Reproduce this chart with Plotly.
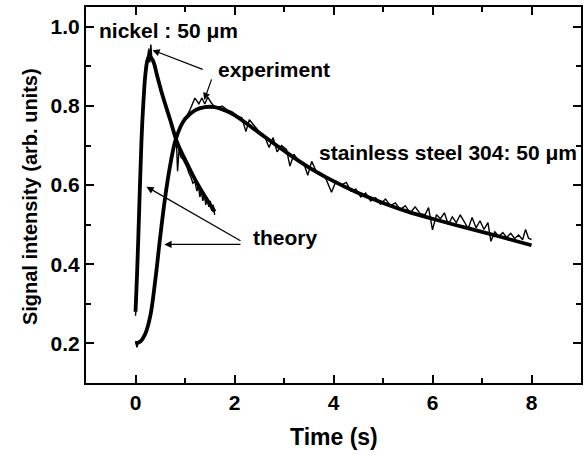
import plotly.graph_objects as go

# Nickel: theory curve
ni_th_t = [0, 0.03, 0.06, 0.09, 0.12, 0.16, 0.20, 0.24, 0.28, 0.35, 0.45, 0.55, 0.70, 0.85, 1.00, 1.20, 1.40, 1.60]
ni_th_y = [0.28, 0.37, 0.48, 0.60, 0.71, 0.81, 0.88, 0.915, 0.925, 0.915, 0.87, 0.825, 0.765, 0.705, 0.665, 0.615, 0.572, 0.533]

# Nickel: experiment
ni_ex_t = [0, 0.02, 0.04, 0.08, 0.12, 0.16, 0.20, 0.24, 0.27, 0.29, 0.31, 0.33, 0.36, 0.40, 0.44, 0.48,
           0.52, 0.56, 0.60, 0.64, 0.68, 0.72, 0.76, 0.80, 0.83, 0.85, 0.88, 0.92, 0.96, 1.00, 1.04, 1.08,
           1.12, 1.16, 1.20, 1.24, 1.27, 1.30, 1.33, 1.36, 1.39, 1.42, 1.45, 1.48, 1.51, 1.54, 1.57, 1.60]
ni_ex_y = [0.27, 0.30, 0.40, 0.55, 0.70, 0.81, 0.89, 0.93, 0.945, 0.91, 0.955, 0.92, 0.915, 0.90, 0.88, 0.86,
           0.845, 0.825, 0.80, 0.79, 0.77, 0.755, 0.74, 0.725, 0.70, 0.635, 0.69, 0.67, 0.665, 0.655, 0.645, 0.63,
           0.62, 0.605, 0.61, 0.585, 0.60, 0.57, 0.585, 0.56, 0.575, 0.55, 0.57, 0.545, 0.56, 0.535, 0.55, 0.525]

# Stainless steel 304: theory curve
ss_th_t = [0, 0.1, 0.2, 0.3, 0.4, 0.5, 0.6, 0.7, 0.8, 0.9, 1.0, 1.2, 1.4, 1.6, 1.8, 2.0, 2.5,
           3.0, 3.5, 4.0, 4.5, 5.0, 5.5, 6.0, 6.5, 7.0, 7.5, 8.0]
ss_th_y = [0.20, 0.205, 0.225, 0.27, 0.36, 0.47, 0.57, 0.65, 0.71, 0.745, 0.767, 0.789, 0.797, 0.797, 0.789, 0.777, 0.732,
           0.687, 0.645, 0.610, 0.580, 0.555, 0.533, 0.515, 0.498, 0.482, 0.465, 0.448]

# Stainless steel 304: experiment
ss_ex_t = [0.00, 0.03, 0.06, 0.10, 0.20, 0.30, 0.40, 0.50, 0.60, 0.70, 0.80, 0.90, 1.00, 1.10, 1.20, 1.28,
           1.34, 1.40, 1.46, 1.52, 1.58, 1.65, 1.75, 1.85, 1.95, 2.05, 2.15, 2.23, 2.30, 2.40, 2.50, 2.60,
           2.70, 2.78, 2.86, 2.95, 3.05, 3.12, 3.20, 3.30, 3.40, 3.48, 3.56, 3.65, 3.75, 3.85, 3.96, 4.05,
           4.15, 4.26, 4.35, 4.45, 4.55, 4.65, 4.75, 4.85, 4.95, 5.05, 5.15, 5.25, 5.35, 5.45, 5.55, 5.65,
           5.75, 5.85, 5.92, 6.00, 6.08, 6.16, 6.24, 6.32, 6.40, 6.48, 6.56, 6.64, 6.72, 6.80, 6.88, 6.96,
           7.04, 7.12, 7.18, 7.26, 7.34, 7.42, 7.50, 7.58, 7.66, 7.74, 7.82, 7.88, 7.94, 8.00]
ss_ex_y = [0.205, 0.19, 0.205, 0.205, 0.225, 0.27, 0.36, 0.47, 0.57, 0.65, 0.705, 0.745, 0.765, 0.79, 0.82, 0.805,
           0.82, 0.805, 0.822, 0.81, 0.80, 0.795, 0.80, 0.79, 0.785, 0.775, 0.77, 0.735, 0.765, 0.75, 0.735, 0.725,
           0.695, 0.72, 0.684, 0.70, 0.69, 0.648, 0.678, 0.66, 0.655, 0.625, 0.66, 0.635, 0.63, 0.615, 0.582, 0.61,
           0.60, 0.607, 0.585, 0.59, 0.57, 0.58, 0.56, 0.568, 0.552, 0.565, 0.548, 0.555, 0.538, 0.548, 0.53, 0.545,
           0.528, 0.525, 0.543, 0.487, 0.525, 0.515, 0.53, 0.50, 0.52, 0.505, 0.525, 0.508, 0.49, 0.518, 0.492, 0.51,
           0.488, 0.505, 0.458, 0.482, 0.47, 0.48, 0.468, 0.478, 0.465, 0.474, 0.462, 0.488, 0.466, 0.462]

x_ticks = [0, 2, 4, 6, 8]
y_ticks = [0.2, 0.4, 0.6, 0.8, 1.0]

FONT = "Liberation Sans, Arial, Helvetica, sans-serif"

fig = go.Figure()
fig.add_trace(go.Scatter(x=ni_ex_t, y=ni_ex_y, mode="lines", line=dict(color="black", width=1.4)))
fig.add_trace(go.Scatter(x=ss_ex_t, y=ss_ex_y, mode="lines", line=dict(color="black", width=1.4)))
fig.add_trace(go.Scatter(x=ni_th_t, y=ni_th_y, mode="lines", line=dict(color="black", width=3.8, shape="spline")))
fig.add_trace(go.Scatter(x=ss_th_t, y=ss_th_y, mode="lines", line=dict(color="black", width=3.8, shape="spline")))

tfont = dict(family=FONT, size=21, color="black", weight="bold")

texts = [
    ("nickel : 50 \u03bcm", -0.784, 0.99),
    ("experiment", 1.628, 0.893),
    ("theory", 2.325, 0.468),
    ("stainless steel 304: 50 \u03bcm", 3.658, 0.683),
]
for t, x, y in texts:
    fig.add_annotation(x=x, y=y, xref="x", yref="y", text=t, showarrow=False,
                       xanchor="left", yanchor="middle", font=tfont)

arrows = [
    (0.342, 0.941, 1.387, 0.891),
    (1.387, 0.815, 1.548, 0.871),
    (0.221, 0.596, 2.151, 0.457),
    (0.583, 0.450, 2.151, 0.450),
]
for hx, hy, tx, ty in arrows:
    fig.add_annotation(x=hx, y=hy, ax=tx, ay=ty, xref="x", yref="y", axref="x", ayref="y",
                       text="", showarrow=True, arrowhead=2, arrowsize=1.2, arrowwidth=1.2,
                       arrowcolor="black", standoff=0, startstandoff=0)

fig.add_annotation(x=0.5, y=-0.1436, xref="paper", yref="paper", text="Time (s)", showarrow=False,
                   xanchor="center", yanchor="middle", font=dict(family=FONT, size=23, color="black", weight="bold"))
fig.add_annotation(x=-0.1127, y=0.495, xref="paper", yref="paper", text="Signal intensity (arb. units)",
                   showarrow=False, textangle=-90, xanchor="center", yanchor="middle",
                   font=dict(family=FONT, size=20, color="black", weight="bold"))

axis_common = dict(showline=True, linewidth=2, linecolor="black", mirror="ticks", ticks="inside",
                   ticklen=8, tickwidth=1.5, tickcolor="black", showgrid=False, zeroline=False,
                   tickfont=dict(family=FONT, size=21, color="black", weight="bold"))

fig.update_xaxes(range=[-1, 9], tickvals=x_ticks, ticktext=[str(v) for v in x_ticks],
                 minor=dict(ticks="inside", ticklen=5, tickwidth=1.5, tickcolor="black", dtick=1, tick0=0, showgrid=False),
                 **axis_common)
fig.update_yaxes(range=[0.1, 1.05], tickvals=y_ticks, ticktext=["%.1f" % v for v in y_ticks],
                 minor=dict(ticks="inside", ticklen=5, tickwidth=1.5, tickcolor="black", dtick=0.1, tick0=0.1, showgrid=False),
                 **axis_common)

fig.update_layout(width=586, height=455, margin=dict(l=86, r=3, t=7, b=72),
                  paper_bgcolor="white", plot_bgcolor="white", showlegend=False,
                  font=dict(family=FONT, color="black"))

fig.write_html("out.html")
